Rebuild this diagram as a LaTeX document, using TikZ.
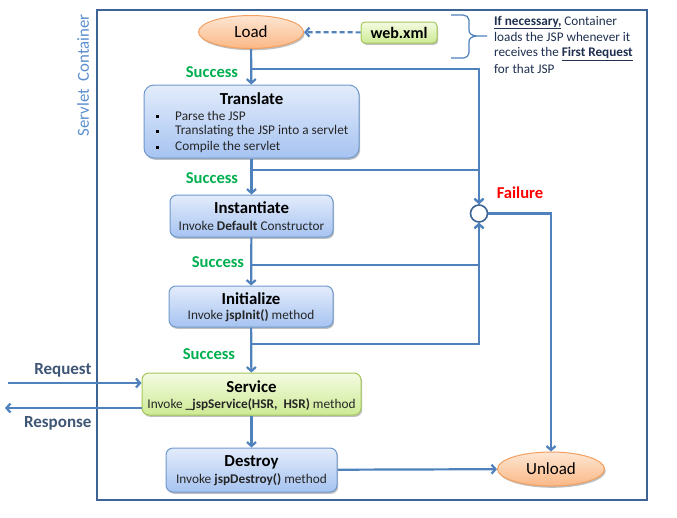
\documentclass[tikz,border=0pt]{standalone}
\usepackage{fontspec}
\setmainfont{Carlito}
\usetikzlibrary{arrows.meta,shadows,shapes.geometric}
\definecolor{lineblue}{HTML}{4F81BD}
\definecolor{contblue}{HTML}{3E6496}
\definecolor{sctext}{HTML}{5B8FD1}
\definecolor{boxtop}{HTML}{E3ECFB}
\definecolor{boxbot}{HTML}{A6C3F1}
\definecolor{boxborder}{HTML}{7099CC}
\definecolor{ortop}{HTML}{FDE6D3}
\definecolor{orbot}{HTML}{FBB886}
\definecolor{orborder}{HTML}{F3A060}
\definecolor{grtop}{HTML}{F4FBE2}
\definecolor{grbot}{HTML}{CDEA94}
\definecolor{grborder}{HTML}{A5C85A}
\definecolor{succ}{HTML}{00B050}
\definecolor{reqcol}{HTML}{3F5675}
\definecolor{notecol}{HTML}{1F3050}
\begin{document}
\begin{tikzpicture}[x=1pt,y=-1pt,
  conn/.style={draw=lineblue, line width=2.2pt},
  arr/.style={conn, -{Straight Barb[length=4pt,width=9pt]}},
  shade/.style={drop shadow={shadow xshift=1.2pt, shadow yshift=-1.8pt, opacity=0.25, fill=black}},
  bluebox/.style={draw=boxborder, line width=1pt, top color=boxtop, bottom color=boxbot, rounded corners=7pt, align=center, inner sep=0pt, shade},
  greenbox/.style={draw=grborder, line width=1pt, top color=grtop, bottom color=grbot, rounded corners=7pt, align=center, inner sep=0pt, shade},
  orell/.style={ellipse, draw=orborder, line width=1pt, top color=ortop, bottom color=orbot, inner sep=0pt, shade},
  ttl/.style={font=\fontsize{16.8}{19}\selectfont\bfseries},
  sub/.style={font=\fontsize{13.3}{16}\selectfont, text=black!85},
  succlbl/.style={font=\fontsize{16.6}{19}\selectfont\bfseries, text=succ},
  rrlbl/.style={font=\fontsize{17}{19}\selectfont\bfseries, text=reqcol, anchor=east},
  notel/.style={font=\fontsize{13.2}{16}\selectfont, text=notecol, anchor=base west, inner sep=0pt}
]
\useasboundingbox (0,0) rectangle (677,517);
\fill[white] (0,0) rectangle (677,517);

% container
\draw[contblue, line width=2pt] (97,10) rectangle (647,500);
\node[rotate=90, font=\fontsize{16.8}{19}\selectfont, text=sctext] (sclabel) at (83,75.5) {Servlet\ \ Container};

% nodes
\node[orell, minimum width=105, minimum height=33] (load) at (251,32) {\fontsize{17}{20}\selectfont Load};
\node[greenbox, rounded corners=4pt, minimum width=76, minimum height=21] (webxml) at (399,32.5) {\fontsize{16}{18}\selectfont\bfseries web.xml};

\node[bluebox, rounded corners=10pt, minimum width=215, minimum height=73] (translate) at (251.5,121.5) {};
\node[ttl] (ttitle) at (251.5,99) {Translate};
\node[sub, anchor=west, inner sep=0pt] (b1) at (175,116) {Parse the JSP};
\node[sub, anchor=west, inner sep=0pt] (b2) at (175,131.5) {Translating the JSP into a servlet};
\node[sub, anchor=west, inner sep=0pt] (b3) at (175,147) {Compile the servlet};
\fill (155.5,114.5) rectangle (158.5,117.5);
\fill (155.5,130) rectangle (158.5,133);
\fill (155.5,145.5) rectangle (158.5,148.5);

\node[bluebox, minimum width=163, minimum height=42] (inst) at (251.5,216) {};
\node[ttl] (insttitle) at (251.5,208) {Instantiate};
\node[sub] (instsub) at (251.5,225.5) {Invoke \textbf{Default} Constructor};

\node[bluebox, minimum width=164, minimum height=41] (init) at (251,306.5) {};
\node[ttl] (inittitle) at (251,298.5) {Initialize};
\node[sub] (initsub) at (251,316) {Invoke \textbf{jspInit()} method};

\node[greenbox, minimum width=219, minimum height=42] (service) at (251.5,394) {};
\node[ttl] (servtitle) at (251.5,387) {Service};
\node[sub] (servsub) at (251.5,405) {Invoke \textbf{\_jspService(HSR,\ \ HSR)} method};

\node[bluebox, minimum width=171, minimum height=44] (destroy) at (251.5,470) {};
\node[ttl] (destitle) at (251.5,462) {Destroy};
\node[sub] (dessub) at (251.5,480) {Invoke \textbf{jspDestroy()} method};

\node[orell, minimum width=107, minimum height=34] (unload) at (551,469) {\fontsize{17}{20}\selectfont Unload};

\node[circle, draw=contblue, line width=1.6pt, fill=white, minimum size=17, inner sep=0pt] (circ) at (479,213.5) {};

% labels
\node[succlbl] (s1) at (212,72) {Success};
\node[succlbl] (s2) at (212,178) {Success};
\node[succlbl] (s3) at (218,262) {Success};
\node[succlbl] (s4) at (209,354) {Success};
\node[font=\fontsize{16.6}{19}\selectfont\bfseries, text=red] (fail) at (520,193) {Failure};
\node[rrlbl] (reqlbl) at (95,370) {Request};
\node[rrlbl] (resplbl) at (95,423) {Response};

% note
\node[notel] (n1) at (494,25) {\underline{\textbf{If necessary,}} Container};
\node[notel] (n2) at (494,41) {loads the JSP whenever it};
\node[notel] (n3) at (494,56.5) {receives the \underline{\textbf{First Request}}};
\node[notel] (n4) at (494,73) {for that JSP};
\draw[lineblue, line width=1.2pt] (451,15) -- (463,15) to[out=0,in=90] (469,20) -- (469,30) to[out=-90,in=180] (487,36) to[out=180,in=90] (469,42) -- (469,52) to[out=-90,in=0] (463,58) -- (451,58);

% junctions
\coordinate (j1) at (251,69);
\coordinate (j2) at (251,170);
\coordinate (j3) at (251,265);
\coordinate (j4) at (251,344);
\coordinate (reqstart) at (8,383);
\coordinate (respend) at (5,408);

% connectors
\draw[arr, dashed, dash pattern=on 5pt off 3pt] (webxml) -- (load);
\draw[arr] (load) -- (translate);
\draw[arr] (translate) -- (inst);
\draw[arr] (inst) -- (init);
\draw[arr] (init) -- (service);
\draw[arr] (service) -- (destroy);
\draw[arr] (j1) -| (circ);
\draw[arr] (j2) -| (circ);
\draw[arr] (j3) -| (circ);
\draw[arr] (j4) -| (circ);
\draw[arr] (circ) -| (unload);
\draw[arr] (destroy) -- (unload);
\draw[arr] (reqstart) -- (reqstart -| service.west);
\draw[arr] (respend -| service.west) -- (respend);
\end{tikzpicture}
\end{document}
